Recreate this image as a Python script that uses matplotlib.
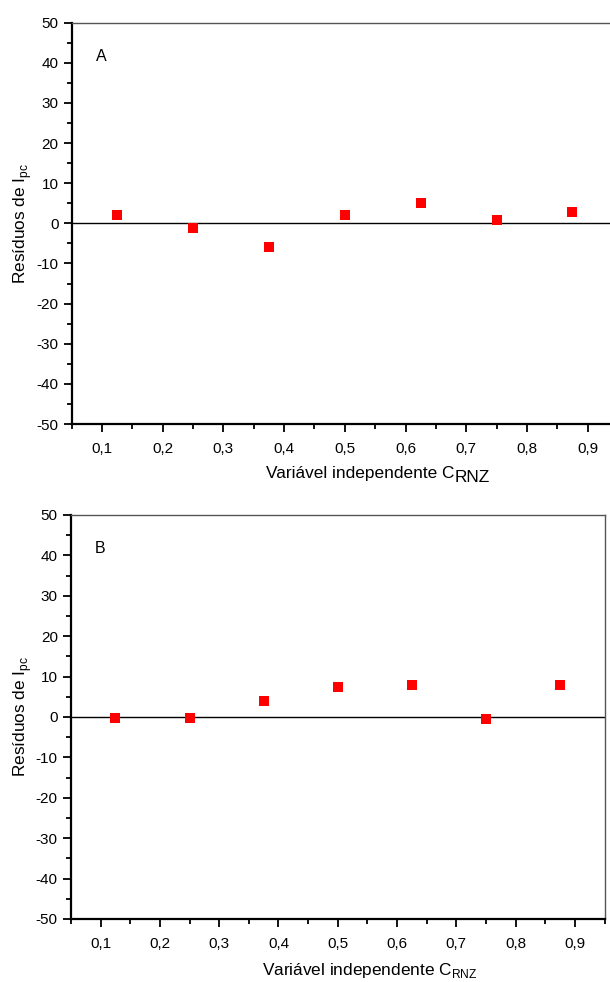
"""Residual plots (A and B) for I_pc versus C_RNZ."""

import matplotlib

matplotlib.use("Agg")
import matplotlib.pyplot as plt
from matplotlib.ticker import FuncFormatter, MultipleLocator

plt.rcParams["font.family"] = ["Liberation Sans", "DejaVu Sans"]
plt.rcParams["mathtext.fontset"] = "custom"
plt.rcParams["mathtext.rm"] = "Liberation Sans"
plt.rcParams["axes.unicode_minus"] = False

C_RNZ = [0.125, 0.25, 0.375, 0.5, 0.625, 0.75, 0.875]
RES_A = [2.0, -1.2, -5.9, 2.0, 5.0, 0.9, 2.8]
RES_B = [-0.2, -0.3, 3.9, 7.3, 7.9, -0.5, 8.0]
PANELS = ["A", "B"]

RED = "#ff0000"
INK = "#000000"
LABEL_SIZE = 12.4


def comma(v, _pos):
    return f"{v:.1f}".replace(".", ",")


def style(ax):
    ax.set_xlim(0.05, 0.95)
    ax.set_ylim(-50, 50)
    ax.xaxis.set_major_locator(MultipleLocator(0.1))
    ax.xaxis.set_minor_locator(MultipleLocator(0.05))
    ax.yaxis.set_major_locator(MultipleLocator(10))
    ax.yaxis.set_minor_locator(MultipleLocator(5))
    ax.xaxis.set_major_formatter(FuncFormatter(comma))
    ax.tick_params(which="both", direction="out", top=False, right=False,
                   labelsize=11, colors=INK, width=1.3)
    ax.tick_params(which="major", length=6)
    ax.tick_params(which="minor", length=3.5)
    ax.tick_params(axis="x", pad=7)
    for side in ("left", "bottom"):
        ax.spines[side].set_linewidth(1.6)
        ax.spines[side].set_color(INK)
    for side in ("top", "right"):
        ax.spines[side].set_linewidth(1.0)
        ax.spines[side].set_color("#555555")
    ax.axhline(0, color=INK, lw=1.0, zorder=1)
    ax.set_ylabel(r"Resíduos de I$_{\mathregular{pc}}$", fontsize=LABEL_SIZE)


fig = plt.figure(figsize=(6.10, 9.82), dpi=100, facecolor="white")
ax_a = fig.add_axes([0.1175, 0.5682, 0.8956, 0.4087])
ax_b = fig.add_axes([0.1164, 0.0642, 0.8746, 0.4114])

for ax, res, tag in ((ax_a, RES_A, PANELS[0]), (ax_b, RES_B, PANELS[1])):
    style(ax)
    ax.plot(C_RNZ, res, "s", color=RED, markersize=6.5, markeredgewidth=0, zorder=3)
    ax.text(0.045, 0.905, tag, transform=ax.transAxes, fontsize=11.5, color=INK)

ax_a.yaxis.set_label_coords(-0.069, 0.5)
ax_b.yaxis.set_label_coords(-0.0695, 0.5)

# panel A: subscript drawn nearly full size, as in the original
ax_a.set_xlabel("Variável independente C", fontsize=LABEL_SIZE, labelpad=7)
ax_a.xaxis.label.set_x(0.528)
ax_a.annotate("RNZ", xy=(1.0, 0.0), xycoords=ax_a.xaxis.label,
              xytext=(0.5, -3.0), textcoords="offset points",
              ha="left", va="bottom", fontsize=12.4, color=INK)

ax_b.set_xlabel(r"Variável independente C$_{\mathregular{RNZ}}$", fontsize=LABEL_SIZE, labelpad=7)
ax_b.xaxis.label.set_x(0.56)

fig.savefig("out.png", dpi=100, facecolor="white")
